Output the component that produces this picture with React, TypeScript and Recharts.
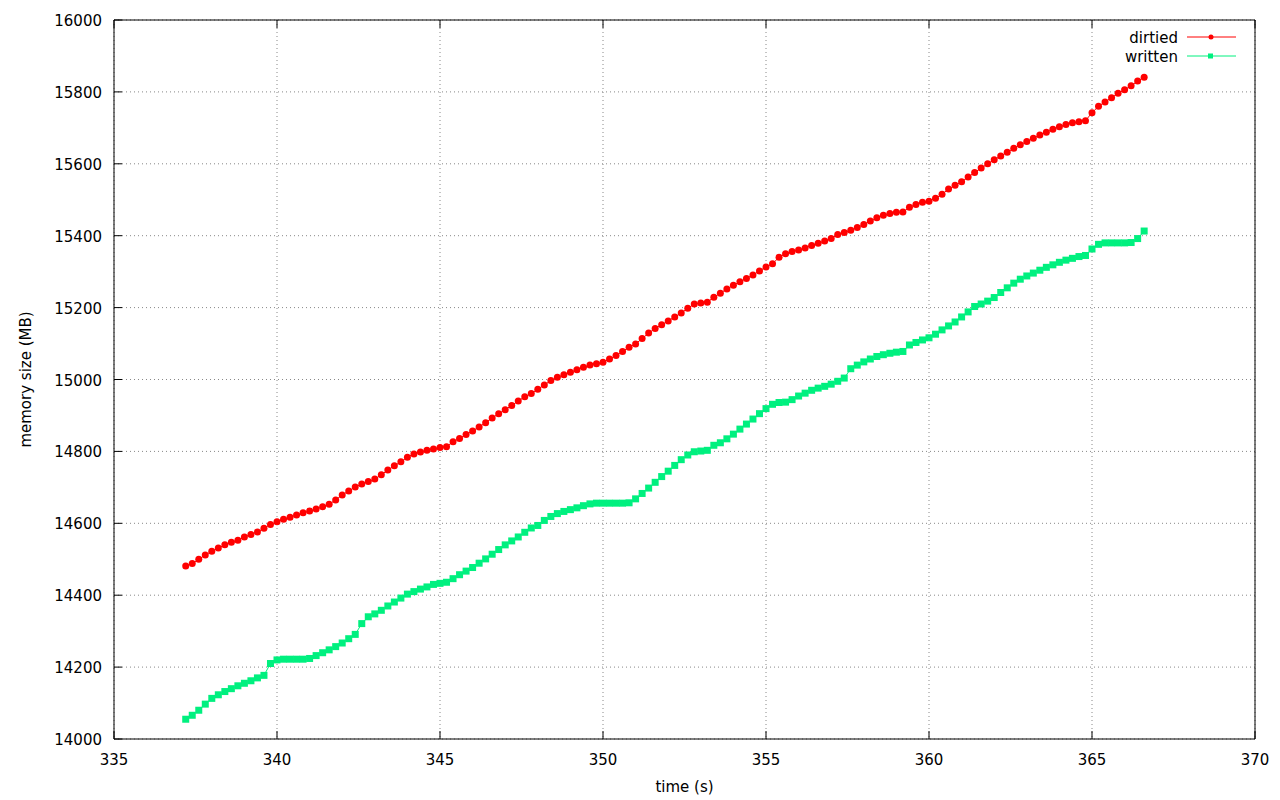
import React from "react";
import { LineChart, Line, XAxis, YAxis, CartesianGrid, Legend } from "recharts";

// sample times (s)
const times = [
  337.2, 337.4, 337.6, 337.8, 338.0, 338.2, 338.4, 338.6, 338.8, 339.0,
  339.2, 339.4, 339.6, 339.8, 340.0, 340.2, 340.4, 340.6, 340.8, 341.0,
  341.2, 341.4, 341.6, 341.8, 342.0, 342.2, 342.4, 342.6, 342.8, 343.0,
  343.2, 343.4, 343.6, 343.8, 344.0, 344.2, 344.4, 344.6, 344.8, 345.0,
  345.2, 345.4, 345.6, 345.8, 346.0, 346.2, 346.4, 346.6, 346.8, 347.0,
  347.2, 347.4, 347.6, 347.8, 348.0, 348.2, 348.4, 348.6, 348.8, 349.0,
  349.2, 349.4, 349.6, 349.8, 350.0, 350.2, 350.4, 350.6, 350.8, 351.0,
  351.2, 351.4, 351.6, 351.8, 352.0, 352.2, 352.4, 352.6, 352.8, 353.0,
  353.2, 353.4, 353.6, 353.8, 354.0, 354.2, 354.4, 354.6, 354.8, 355.0,
  355.2, 355.4, 355.6, 355.8, 356.0, 356.2, 356.4, 356.6, 356.8, 357.0,
  357.2, 357.4, 357.6, 357.8, 358.0, 358.2, 358.4, 358.6, 358.8, 359.0,
  359.2, 359.4, 359.6, 359.8, 360.0, 360.2, 360.4, 360.6, 360.8, 361.0,
  361.2, 361.4, 361.6, 361.8, 362.0, 362.2, 362.4, 362.6, 362.8, 363.0,
  363.2, 363.4, 363.6, 363.8, 364.0, 364.2, 364.4, 364.6, 364.8, 365.0,
  365.2, 365.4, 365.6, 365.8, 366.0, 366.2, 366.4, 366.6,
];

// memory dirtied (MB)
const dirtied = [
  14481, 14488, 14500, 14512, 14522, 14531, 14540, 14547, 14553, 14562,
  14569, 14576, 14586, 14597, 14604, 14611, 14617, 14623, 14629, 14634,
  14640, 14646, 14653, 14665, 14679, 14690, 14701, 14709, 14716, 14723,
  14735, 14748, 14760, 14771, 14784, 14793, 14798, 14803, 14807, 14811,
  14813, 14827, 14836, 14847, 14857, 14868, 14880, 14893, 14905, 14916,
  14928, 14940, 14952, 14961, 14973, 14985, 14997, 15006, 15013, 15020,
  15027, 15034, 15040, 15044, 15048, 15057, 15067, 15078, 15090, 15099,
  15114, 15129, 15142, 15152, 15163, 15174, 15185, 15198, 15210, 15213,
  15215, 15229, 15240, 15252, 15262, 15272, 15281, 15291, 15302, 15313,
  15322, 15340, 15350, 15356, 15360, 15366, 15373, 15379, 15385, 15392,
  15403, 15409, 15415, 15423, 15431, 15441, 15450, 15457, 15462, 15465,
  15466, 15479, 15487, 15493, 15496, 15504, 15515, 15530, 15540, 15550,
  15563, 15576, 15588, 15600, 15611, 15622, 15632, 15643, 15653, 15662,
  15671, 15680, 15688, 15696, 15703, 15709, 15714, 15717, 15720, 15742,
  15760, 15772, 15784, 15796, 15806, 15817, 15830, 15841,
];

// memory written (MB)
const written = [
  14055, 14066, 14080, 14097, 14113, 14123, 14132, 14140, 14148, 14155,
  14162, 14170, 14177, 14210, 14220, 14222, 14222, 14222, 14222, 14224,
  14232, 14240, 14248, 14257, 14267, 14279, 14291, 14321, 14340, 14348,
  14358, 14370, 14381, 14392, 14403, 14410, 14417, 14423, 14430, 14433,
  14436, 14446, 14457, 14467, 14477, 14489, 14501, 14514, 14527, 14540,
  14551, 14562, 14575, 14587, 14594, 14608, 14619, 14627, 14633, 14638,
  14643, 14649, 14654, 14656, 14656, 14656, 14656, 14656, 14657, 14668,
  14683, 14698, 14714, 14730, 14745, 14761, 14777, 14790, 14799, 14801,
  14803, 14817, 14824, 14835, 14848, 14862, 14876, 14890, 14905, 14919,
  14931, 14936, 14937, 14944, 14954, 14962, 14970, 14976, 14981, 14987,
  14995, 15004, 15030, 15040, 15049, 15057, 15064, 15069, 15073, 15076,
  15078, 15096, 15103, 15110, 15116, 15126, 15138, 15149, 15160, 15174,
  15188, 15203, 15210, 15218, 15228, 15242, 15255, 15268, 15279, 15288,
  15296, 15304, 15312, 15319, 15326, 15332, 15337, 15342, 15345, 15363,
  15376, 15380, 15380, 15380, 15380, 15381, 15392, 15413,
];

const xTicks = [335, 340, 345, 350, 355, 360, 365, 370];
const yTicks = [14000, 14200, 14400, 14600, 14800, 15000, 15200, 15400, 15600, 15800, 16000];

const data = times.map((t, i) => ({ time: t, dirtied: dirtied[i], written: written[i] }));

const FONT = "'DejaVu Sans', sans-serif";
const RED = "#ff0000";
const GREEN = "#00f07f";
const TICK = 8;

const BottomTick = (props: any) => {
  const { x, y, payload } = props;
  return (
    <g>
      <line x1={x} y1={y} x2={x} y2={y - TICK} stroke="#000" />
      <text x={x} y={y + 26} textAnchor="middle" fontSize={15} fontFamily={FONT} fill="#000">
        {payload.value}
      </text>
    </g>
  );
};

const TopTick = (props: any) => {
  const { x, y } = props;
  return <line x1={x} y1={y} x2={x} y2={y + TICK} stroke="#000" />;
};

const LeftTick = (props: any) => {
  const { x, y, payload } = props;
  return (
    <g>
      <line x1={x} y1={y} x2={x + TICK} y2={y} stroke="#000" />
      <text x={x - 12} y={y + 6} textAnchor="end" fontSize={15} fontFamily={FONT} fill="#000">
        {payload.value}
      </text>
    </g>
  );
};

const RightTick = (props: any) => {
  const { x, y } = props;
  return <line x1={x} y1={y} x2={x - TICK} y2={y} stroke="#000" />;
};

const redDot = (p: any) => <circle key={p.index} cx={p.cx} cy={p.cy} r={3.5} fill={RED} />;
const greenDot = (p: any) => (
  <rect key={p.index} x={p.cx - 3.5} y={p.cy - 3.5} width={7} height={7} fill={GREEN} />
);

// gnuplot-style key in the top right corner
const renderLegend = () => {
  const rows = [
    { name: "dirtied", color: RED, square: false },
    { name: "written", color: GREEN, square: true },
  ];
  return (
    <svg width={1280} height={80}>
      {rows.map((r, i) => {
        const cy = 37 + i * 19;
        return (
          <g key={r.name}>
            <text x={1178} y={cy + 5.5} textAnchor="end" fontSize={15} fontFamily={FONT} fill="#000">
              {r.name}
            </text>
            <line x1={1187} y1={cy} x2={1236} y2={cy} stroke={r.color} />
            {r.square ? (
              <rect x={1208} y={cy - 2.5} width={5} height={5} fill={r.color} />
            ) : (
              <circle cx={1211} cy={cy} r={2.5} fill={r.color} />
            )}
          </g>
        );
      })}
    </svg>
  );
};

export default function App() {
  return (
    <div style={{ position: "absolute", left: 0, top: 0, width: 1280, height: 800, background: "#fff" }}>
      <LineChart width={1280} height={800} data={data} margin={{ top: 0, right: 0, bottom: 0, left: 0 }}>
        <CartesianGrid strokeDasharray="1 3" stroke="#888" />
        <XAxis
          dataKey="time"
          type="number"
          domain={[335, 370]}
          ticks={xTicks}
          height={61}
          tickSize={0}
          tickMargin={0}
          tickLine={false}
          axisLine={{ stroke: "#000" }}
          tick={BottomTick}
          label={{
            content: (p: any) => (
              <text
                x={p.viewBox.x + p.viewBox.width / 2}
                y={p.viewBox.y + 53}
                textAnchor="middle"
                fontSize={15}
                fontFamily={FONT}
                fill="#000"
              >
                time (s)
              </text>
            ),
          }}
        />
        <XAxis
          xAxisId="top"
          orientation="top"
          dataKey="time"
          type="number"
          domain={[335, 370]}
          ticks={xTicks}
          height={20}
          tickSize={0}
          tickMargin={0}
          tickLine={false}
          axisLine={{ stroke: "#000" }}
          tick={TopTick}
        />
        <YAxis
          type="number"
          domain={[14000, 16000]}
          ticks={yTicks}
          width={114}
          tickSize={0}
          tickMargin={0}
          tickLine={false}
          axisLine={{ stroke: "#000" }}
          tick={LeftTick}
          label={{
            content: (p: any) => {
              const cx = p.viewBox.x + 31;
              const cy = p.viewBox.y + p.viewBox.height / 2;
              return (
                <text
                  x={cx}
                  y={cy}
                  transform={`rotate(-90 ${cx} ${cy})`}
                  textAnchor="middle"
                  fontSize={15}
                  fontFamily={FONT}
                  fill="#000"
                >
                  memory size (MB)
                </text>
              );
            },
          }}
        />
        <YAxis
          yAxisId="right"
          orientation="right"
          type="number"
          domain={[14000, 16000]}
          ticks={yTicks}
          width={25}
          tickSize={0}
          tickMargin={0}
          tickLine={false}
          axisLine={{ stroke: "#000" }}
          tick={RightTick}
        />
        <Legend
          content={renderLegend}
          layout="vertical"
          align="center"
          verticalAlign="middle"
          wrapperStyle={{ position: "absolute", left: 0, top: 0, width: 1280, height: 80 }}
        />
        <Line
          type="linear"
          dataKey="dirtied"
          stroke={RED}
          strokeWidth={1}
          dot={redDot}
          activeDot={false}
          isAnimationActive={false}
        />
        <Line
          type="linear"
          dataKey="written"
          stroke={GREEN}
          strokeWidth={1}
          dot={greenDot}
          activeDot={false}
          isAnimationActive={false}
        />
      </LineChart>
    </div>
  );
}
